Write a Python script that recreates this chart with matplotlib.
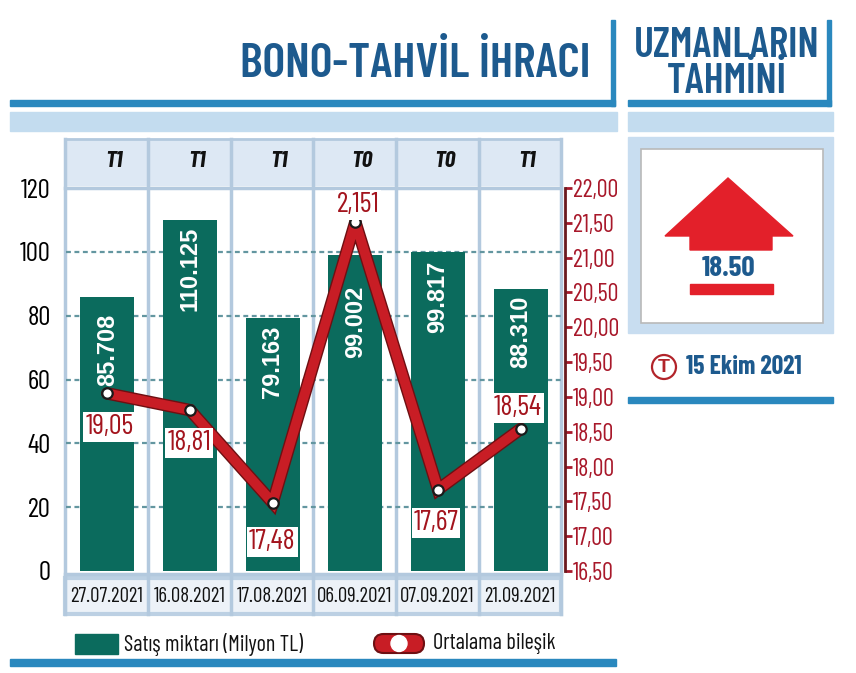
import matplotlib
matplotlib.use('Agg')
import numpy as np
import matplotlib.pyplot as plt
from matplotlib import font_manager as fm
from matplotlib.patches import Rectangle, Polygon, Circle, FancyBboxPatch
from matplotlib.ticker import FuncFormatter

# ---------------- data ----------------
dates = ['27.07.2021', '16.08.2021', '17.08.2021', '06.09.2021', '07.09.2021', '21.09.2021']
tenors = ['T1', 'T1', 'T1', 'T0', 'T0', 'T1']
sales = [85.708, 110.125, 79.163, 99.002, 99.817, 88.310]
sales_labels = ['85.708', '110.125', '79.163', '99.002', '99.817', '88.310']
rates = [19.05, 18.81, 17.48, 21.51, 17.67, 18.54]
rate_labels = ['19,05', '18,81', '17,48', '2,151', '17,67', '18,54']
left_ticks = [0, 20, 40, 60, 80, 100, 120]
right_ticks = [16.5, 17.0, 17.5, 18.0, 18.5, 19.0, 19.5, 20.0, 20.5, 21.0, 21.5, 22.0]
forecast_value = '18.50'
forecast_date = '15 Ekim 2021'
title = 'BONO-TAHVİL İHRACI'
side_title = 'UZMANLARIN\nTAHMİNİ'
legend_bar = 'Satış miktarı (Milyon TL)'
legend_line = 'Ortalama bileşik'

# ---------------- fonts ----------------
available = {f.name for f in fm.fontManager.ttflist}
def pick(prefs):
    for p in prefs:
        if p in available:
            return [p, 'DejaVu Sans']
    return ['DejaVu Sans']

NARROW = pick(['Barlow Condensed', 'Roboto Condensed', 'PT Sans Narrow', 'Archivo Narrow',
               'Open Sans Condensed', 'Oswald', 'Liberation Sans Narrow'])
SANS = pick(['Liberation Sans', 'Arimo', 'Roboto'])

DARKBLUE = '#1d5a8e'
BLUE = '#2a88be'
LIGHTBAND = '#c3dcef'
HEADER = '#dde8f4'
SEP = '#b3c9de'
GREEN = '#0b6b5d'
RED = '#c81d25'
DARKRED = '#6e0f12'
TICKRED = '#a8182a'
SPINE = '#6a1a1e'
LABELRED = '#a3141d'
ARROWRED = '#e3202a'
GRID = '#6396a0'

W, H = 856, 673
fig = plt.figure(figsize=(W / 100, H / 100), dpi=100)
fig.patch.set_facecolor('white')

bg = fig.add_axes([0, 0, 1, 1])
bg.set_xlim(0, W)
bg.set_ylim(H, 0)
bg.axis('off')

# --- title block decorations ---
bg.add_patch(Rectangle((10, 100), 605, 6, color=BLUE))
bg.add_patch(Rectangle((611, 20), 4, 86, color=BLUE))
bg.add_patch(Rectangle((10, 112), 607, 19, color=LIGHTBAND))
bg.add_patch(Rectangle((628, 100), 203, 6, color=BLUE))
bg.add_patch(Rectangle((827, 20), 4, 86, color=BLUE))
bg.add_patch(Rectangle((628, 112), 205, 19, color=LIGHTBAND))

bg.text(591, 64, title, ha='right', va='center', fontsize=35, fontweight='semibold',
        color=DARKBLUE, family=NARROW)
bg.text(727, 64, side_title, ha='center', va='center', fontsize=30, fontweight='semibold',
        color=DARKBLUE, family=NARROW, linespacing=0.9)

# --- forecast box ---
bg.add_patch(Rectangle((628, 137), 205, 196, color='#c8ddf0'))
bg.add_patch(Rectangle((641, 149), 182, 174, facecolor='white', edgecolor='#b9b9b9', lw=1.2))
bg.add_patch(Polygon([(665, 236), (728, 178), (793, 236), (772, 236), (772, 250),
                      (690, 250), (690, 236)], closed=True, color=ARROWRED))
bg.text(729, 268, forecast_value, ha='center', va='center', fontsize=21, fontweight='bold',
        color=DARKBLUE, family=NARROW)
bg.add_patch(Rectangle((690, 284), 83, 10, color=ARROWRED))
bg.add_patch(Circle((664, 367), 12, facecolor='white', edgecolor='#b2242a', lw=1.6))
bg.text(664, 368, 'T', ha='center', va='center', fontsize=14, fontweight='bold',
        color='#b2242a', family=SANS)
bg.text(686, 367, forecast_date, ha='left', va='center', fontsize=18.5, fontweight='bold',
        color=DARKBLUE, family=NARROW)
bg.add_patch(Rectangle((628, 397), 205, 6, color=BLUE))

# --- chart frame: header row, separators, date row ---
col_edges = [65, 148, 231, 313, 396, 479, 561]
bg.add_patch(Rectangle((65, 139), 496, 46, color=HEADER))
bg.add_patch(Rectangle((65, 578), 496, 36, facecolor='#edf2f8', edgecolor='#bcd0e3', lw=3))
for xe in col_edges:
    bg.plot([xe, xe], [139, 614], color=SEP, lw=2.5, zorder=1)
bg.plot([65, 561], [139, 139], color=SEP, lw=2)
bg.plot([65, 561], [188, 188], color=SEP, lw=2.5)
bg.plot([65, 561], [574, 574], color=SEP, lw=2.5)
for i, t in enumerate(tenors):
    cx = (col_edges[i] + col_edges[i + 1]) / 2
    bg.text(cx + 7, 161, t, ha='center', va='center', fontsize=17, fontweight='bold',
            style='italic', color='#111111', family=NARROW)
    bg.text(cx, 597, dates[i], ha='center', va='center', fontsize=15,
            color='#111111', family=NARROW)

# --- legend ---
bg.add_patch(Rectangle((75, 634), 43, 20, color=GREEN))
bg.text(124, 644, legend_bar, ha='left', va='center', fontsize=16, color='#111111', family=NARROW)
bg.add_patch(FancyBboxPatch((374, 634), 50, 19, boxstyle='round,pad=0,rounding_size=9.5',
                            facecolor=RED, edgecolor=DARKRED, lw=1.5))
bg.add_patch(Circle((399, 643.5), 8, color='white'))
bg.text(433, 644, legend_line, ha='left', va='center', fontsize=16, color='#111111', family=NARROW)
bg.add_patch(Rectangle((10, 659), 606, 7, color=BLUE))

# ---------------- main axes ----------------
x = np.arange(len(sales))
ax = fig.add_axes([66 / W, (H - 571) / H, 496 / W, 383 / H])
ax.patch.set_alpha(0)
ax.set_xlim(-0.5, len(sales) - 0.5)
ax.set_ylim(0, 120)
for s in ax.spines.values():
    s.set_visible(False)
ax.set_xticks([])
ax.set_yticks(left_ticks)
ax.tick_params(axis='y', length=0, pad=11, labelsize=19.5)
for lab in ax.get_yticklabels():
    lab.set_family(NARROW)
for yv in left_ticks[1:-1]:
    ax.axhline(yv, color=GRID, ls=(0, (2.2, 1.6)), lw=1.6, zorder=0.5)

ax.bar(x, sales, width=0.655, color=GREEN, zorder=2)
bar_label_offsets = [-12, -5, -5, -22, -6, -5]
for xi, v, lab, off in zip(x, sales, sales_labels, bar_label_offsets):
    ax.annotate(lab, (xi, v), xytext=(0, off), textcoords='offset points', rotation=90,
                ha='center', va='top', color='white', fontsize=17, fontweight='bold',
                family=SANS, zorder=3)

ax2 = ax.twinx()
ax2.set_ylim(16.5, 22.0)
ax2.set_yticks(right_ticks)
ax2.yaxis.set_major_formatter(FuncFormatter(lambda v, p: f'{v:.2f}'.replace('.', ',')))
for s in ['top', 'left', 'bottom']:
    ax2.spines[s].set_visible(False)
ax2.spines['right'].set_position(('outward', 2))
ax2.spines['right'].set_color(SPINE)
ax2.spines['right'].set_linewidth(2)
ax2.tick_params(axis='y', direction='out', length=5, width=2, color=TICKRED,
                labelcolor=TICKRED, labelsize=17.5, pad=1)
for lab in ax2.get_yticklabels():
    lab.set_family(NARROW)

ax2.plot(x, rates, color=DARKRED, lw=9, solid_joinstyle='miter', solid_capstyle='round', zorder=3)
ax2.plot(x, rates, color=RED, lw=7, solid_joinstyle='miter', solid_capstyle='round', zorder=4)
ax2.plot(x, rates, 'o', ms=7.5, mfc='white', mec='#1a1a1a', mew=1.6, zorder=5)

rate_label_offsets = [(1.4, -24.5), (-0.5, -23.5), (-0.3, -28), (2, 12), (-1.5, -24), (-2, 15)]
for xi, v, lab, off in zip(x, rates, rate_labels, rate_label_offsets):
    ax2.annotate(lab, (xi, v), xytext=off, textcoords='offset points', ha='center',
                 va='center', color=LABELRED, fontsize=20.5, family=NARROW, zorder=6,
                 bbox=dict(boxstyle='square,pad=0.07', facecolor='white', edgecolor='none'))

fig.savefig('out.png', dpi=100, facecolor='white')
